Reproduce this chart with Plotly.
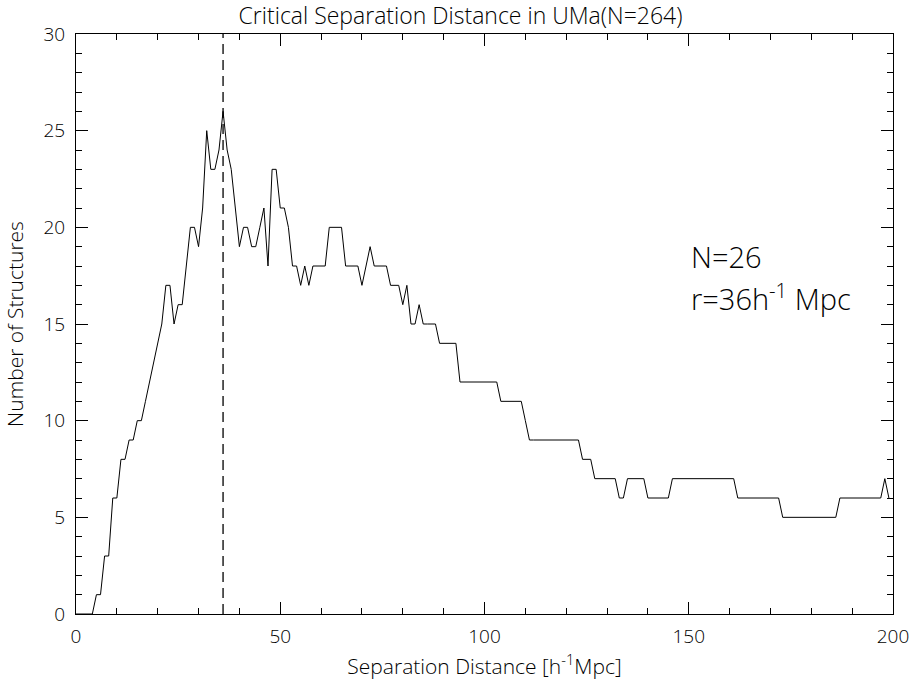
import plotly.graph_objects as go

# Separation distance (h^-1 Mpc), one sample per unit
distance = list(range(200))
# Number of structures at each separation distance
structures = [
    0, 0, 0, 0, 0, 1, 1, 3, 3, 6,
    6, 8, 8, 9, 9, 10, 10, 11, 12, 13,
    14, 15, 17, 17, 15, 16, 16, 18, 20, 20,
    19, 21, 25, 23, 23, 24, 26, 24, 23, 21,
    19, 20, 20, 19, 19, 20, 21, 18, 23, 23,
    21, 21, 20, 18, 18, 17, 18, 17, 18, 18,
    18, 18, 20, 20, 20, 20, 18, 18, 18, 18,
    17, 18, 19, 18, 18, 18, 18, 17, 17, 17,
    16, 17, 15, 15, 16, 15, 15, 15, 15, 14,
    14, 14, 14, 14, 12, 12, 12, 12, 12, 12,
    12, 12, 12, 12, 11, 11, 11, 11, 11, 11,
    10, 9, 9, 9, 9, 9, 9, 9, 9, 9,
    9, 9, 9, 9, 8, 8, 8, 7, 7, 7,
    7, 7, 7, 6, 6, 7, 7, 7, 7, 7,
    6, 6, 6, 6, 6, 6, 7, 7, 7, 7,
    7, 7, 7, 7, 7, 7, 7, 7, 7, 7,
    7, 7, 6, 6, 6, 6, 6, 6, 6, 6,
    6, 6, 6, 5, 5, 5, 5, 5, 5, 5,
    5, 5, 5, 5, 5, 5, 5, 6, 6, 6,
    6, 6, 6, 6, 6, 6, 6, 6, 7, 6,
]
critical_r = 36
n_at_r = 26
x_ticks = [0, 50, 100, 150, 200]
y_ticks = [0, 5, 10, 15, 20, 25, 30]

FONT = "Open Sans"
W = 300

fig = go.Figure()
fig.add_trace(go.Scatter(
    x=distance, y=structures, mode="lines",
    line=dict(color="black", width=1), showlegend=False,
))

fig.add_shape(type="line", xref="x", yref="y",
              x0=critical_r, x1=critical_r, y0=0, y1=30,
              line=dict(color="black", width=1.3, dash="10px,6px"))

fig.add_annotation(x=150, y=18.5, xref="x", yref="y", text=f"N={n_at_r}",
                   showarrow=False, xanchor="left", yanchor="middle",
                   font=dict(family=FONT, size=29, color="black", weight=W))
fig.add_annotation(x=150, y=16.4, xref="x", yref="y",
                   text=f"r={critical_r}h<sup>-1</sup> Mpc",
                   showarrow=False, xanchor="left", yanchor="middle",
                   font=dict(family=FONT, size=29, color="black", weight=W))

axis_common = dict(
    showgrid=False, zeroline=False, showline=True, linecolor="black",
    linewidth=1, mirror="allticks", ticks="inside", tickcolor="black",
    ticklen=12, tickwidth=1,
    tickfont=dict(family=FONT, size=19, color="black", weight=W),
)

fig.update_xaxes(
    range=[0, 200], tickvals=x_ticks, ticktext=[str(v) for v in x_ticks],
    ticklabelstandoff=5,
    minor=dict(dtick=10, ticks="inside", ticklen=6, tickcolor="black", showgrid=False),
    title=dict(text="Separation Distance [h<sup>-1</sup>Mpc]",
               font=dict(family=FONT, size=21, color="black", weight=W), standoff=5),
    **axis_common,
)
fig.update_yaxes(
    range=[0, 30], tickvals=y_ticks, ticktext=[str(v) for v in y_ticks],
    ticklabelstandoff=6,
    minor=dict(dtick=1, ticks="inside", ticklen=6, tickcolor="black", showgrid=False),
    title=dict(text="Number of Structures",
               font=dict(family=FONT, size=21, color="black", weight=W), standoff=14),
    **axis_common,
)

fig.update_layout(
    width=921, height=681,
    margin=dict(l=76, r=23, t=34, b=67),
    paper_bgcolor="white", plot_bgcolor="white",
    title=dict(text="Critical Separation Distance in UMa(N=264)",
               x=0.5, xanchor="center", y=0.977, yanchor="middle",
               font=dict(family=FONT, size=23, color="black", weight=W)),
)

fig.write_html("out.html")
